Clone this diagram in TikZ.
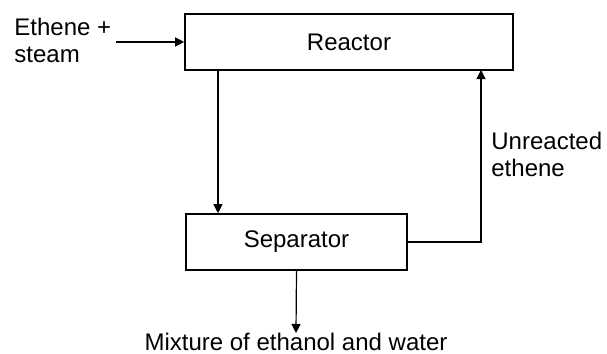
\documentclass[tikz,border=0pt]{standalone}
\usepackage{fontspec}
\setmainfont{Liberation Sans}
\usetikzlibrary{arrows.meta}
\tikzset{
  unit/.style={draw,line width=0.8pt,minimum height=28pt,inner sep=0pt},
  flow/.style={line width=0.6pt,-{Triangle[length=4.5pt,width=4.5pt]}},
  lbl/.style={inner sep=0pt,align=left,font=\fontsize{12}{13.5}\selectfont}
}
\begin{document}
\begin{tikzpicture}[x=0.5pt,y=-0.5pt,font=\fontsize{12}{13.5}\selectfont]
\useasboundingbox (0,0) rectangle (607,354);
\node[unit,minimum width=164pt] (reactor) at (349,42) {Reactor};
\node[unit,minimum width=110.5pt] (sep) at (296.5,242) {Separator};
\node[lbl,anchor=west] (feed) at (14,40) {Ethene +\\steam};
\node[lbl,anchor=west] (unreact) at (491,154) {Unreacted\\ethene};
\node[lbl,anchor=north] (mix) at (296,333) {Mixture of ethanol and water};
\coordinate (inlet) at (116,42);
\coordinate (down) at (218,0);
\coordinate (ret) at (481,70);
% streams
\draw[flow] (inlet) -- (reactor.west |- inlet);
\draw[flow] (reactor.south -| down) -- (sep.north -| down);
\draw[flow] (sep.east) -| (ret);
\draw[flow] (sep.south) -- (mix.north);
\end{tikzpicture}
\end{document}
